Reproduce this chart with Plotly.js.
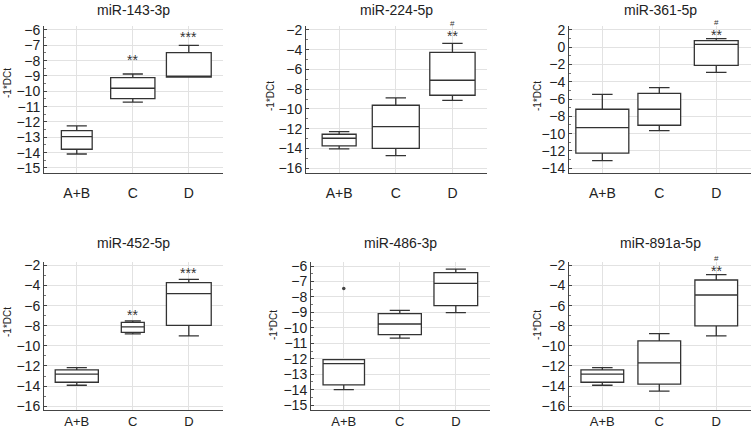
<!DOCTYPE html>
<html>
<head>
<meta charset="utf-8">
<script src="https://cdn.plot.ly/plotly-3.0.1.min.js"></script>
<style>html,body{margin:0;padding:0;background:#fff;}#chart{width:752px;height:430px;}</style>
</head>
<body>
<div id="chart"></div>
<script>
// ---------------- data ----------------
const panelTitles = ['miR-143-3p', 'miR-224-5p', 'miR-361-5p', 'miR-452-5p', 'miR-486-3p', 'miR-891a-5p'];
const groups = ['A+B', 'C', 'D'];

// per panel, per group (A+B, C, D)
const upperFence = [
  [-12.26, -8.87, -7.00],
  [-12.29, -8.88, -3.35],
  [-5.45, -4.67, 1.00],
  [-12.16, -7.52, -3.39],
  [-12.05, -8.87, -6.20],
  [-12.16, -8.78, -2.92]
];
const q3Values = [
  [-12.57, -9.11, -7.48],
  [-12.56, -9.62, -4.26],
  [-7.18, -5.33, 0.76],
  [-12.39, -7.66, -3.72],
  [-12.05, -9.08, -6.43],
  [-12.39, -9.51, -3.45]
];
const medianValues = [
  [-12.96, -9.80, -9.07],
  [-12.96, -11.78, -7.09],
  [-9.30, -7.18, 0.34],
  [-12.82, -8.12, -4.81],
  [-12.31, -9.75, -7.12],
  [-12.82, -11.69, -4.94]
];
const q1Values = [
  [-13.78, -10.48, -9.07],
  [-13.74, -13.98, -8.61],
  [-12.27, -9.03, -2.09],
  [-13.62, -8.65, -7.96],
  [-13.69, -10.44, -8.56],
  [-13.62, -13.81, -8.02]
];
const lowerFence = [
  [-14.09, -10.70, -9.07],
  [-14.04, -14.72, -9.12],
  [-13.12, -9.65, -2.90],
  [-13.92, -8.81, -9.01],
  [-13.99, -10.67, -9.02],
  [-13.92, -14.51, -9.01]
];

// outliers
const outlierPanel = [4];
const outlierGroup = ['A+B'];
const outlierValue = [-7.45];

// significance marks
const starPanel = [0, 0, 1, 2, 3, 3, 4, 5];
const starGroup = ['C', 'D', 'D', 'D', 'C', 'D', 'D', 'D'];
const starText  = ['**', '***', '**', '**', '**', '***', '**', '**'];
const starY     = [-7.76, -6.26, -2.27, 1.73, -6.63, -2.50, -5.53, -2.23];
// '#' marks sit just above the '**' of these entries (index into the star arrays)
const hashOnStar = [2, 3, 7];

// ---------------- styles / layout ----------------
const boxWidths = [
  [0.55, 0.79, 0.80],
  [0.60, 0.83, 0.80],
  [0.93, 0.75, 0.77],
  [0.77, 0.41, 0.80],
  [0.74, 0.77, 0.78],
  [0.75, 0.75, 0.75]
];
const yRanges = [[-15.33, -5.74], [-16.48, -1.6], [-14.56, 2.46], [-16.33, -1.66], [-15.28, -5.74], [-16.33, -1.66]];
const yDticks = [1, 2, 2, 2, 1, 2];
const W = 752, H = 430;
const xDomPx = [[44, 223], [306, 487], [569, 751], [44, 223], [311, 490], [569, 751]];
const yDomPx = [[26, 173], [26, 173], [26, 173], [262, 409.5], [262, 409.5], [262, 409.5]];
const xLabelStandoff = [7, 7, 7, 0, 0, 0];
const xLabelSize = [14, 14, 14, 13, 13, 13];
const titleY = [10, 10, 10, 243, 243, 243];
const yTitlePos = [[7, 83], [270, 96], [537, 96], [7, 322], [273, 325], [537, 325]];

const FONT = 'Liberation Sans, Arial, sans-serif';
const lineCol = '#333333';
const gridCol = '#e2e2e2';

const traces = [];
const layout = {
  width: W, height: H,
  margin: {l: 0, r: 0, t: 0, b: 0},
  paper_bgcolor: '#fff', plot_bgcolor: '#fff',
  showlegend: false,
  boxmode: 'overlay',
  font: {family: FONT, size: 14, color: '#222'},
  annotations: []
};

for (let p = 0; p < 6; p++) {
  const sfx = p === 0 ? '' : String(p + 1);
  const xa = 'x' + sfx, ya = 'y' + sfx;
  for (let g = 0; g < 3; g++) {
    const w = boxWidths[p][g];
    traces.push({
      type: 'box',
      x: [groups[g]],
      q1: [q1Values[p][g]],
      median: [medianValues[p][g]],
      q3: [q3Values[p][g]],
      lowerfence: [lowerFence[p][g]],
      upperfence: [upperFence[p][g]],
      width: w,
      whiskerwidth: Math.min(0.7, 0.36 / w),
      boxpoints: false,
      fillcolor: '#ffffff',
      line: {color: lineCol, width: 1.3},
      xaxis: xa, yaxis: ya,
      hoverinfo: 'skip'
    });
  }
  layout['xaxis' + sfx] = {
    domain: [xDomPx[p][0] / W, xDomPx[p][1] / W],
    anchor: ya,
    type: 'category',
    categoryorder: 'array', categoryarray: groups,
    range: [-0.585, 2.61],
    showgrid: true, gridcolor: gridCol, gridwidth: 1,
    showline: true, linecolor: '#444', linewidth: 1,
    ticks: '', ticklabelstandoff: xLabelStandoff[p],
    tickfont: {size: xLabelSize[p], color: '#222'},
    zeroline: false, fixedrange: true
  };
  layout['yaxis' + sfx] = {
    domain: [1 - yDomPx[p][1] / H, 1 - yDomPx[p][0] / H],
    anchor: xa,
    range: yRanges[p],
    dtick: yDticks[p], tick0: 0,
    showgrid: true, gridcolor: gridCol, gridwidth: 1,
    showline: true, linecolor: '#444', linewidth: 1,
    ticks: 'inside', ticklen: 3, tickcolor: '#444',
    minor: {dtick: yDticks[p] / 2, ticks: 'inside', ticklen: 2, tickcolor: '#777', showgrid: false},
    tickfont: {size: 14, color: '#222'},
    zeroline: false, fixedrange: true
  };
  layout.annotations.push({
    xref: 'paper', yref: 'paper',
    x: (xDomPx[p][0] + xDomPx[p][1]) / 2 / W, y: 1 - titleY[p] / H,
    xanchor: 'center', yanchor: 'middle',
    text: panelTitles[p], showarrow: false,
    font: {size: 14, color: '#222'}
  });
  layout.annotations.push({
    xref: 'paper', yref: 'paper',
    x: yTitlePos[p][0] / W, y: 1 - yTitlePos[p][1] / H,
    xanchor: 'center', yanchor: 'middle',
    text: '-1*DCt', textangle: -90, showarrow: false,
    font: {size: 10, color: '#222'}
  });
}

// outliers
for (let i = 0; i < outlierPanel.length; i++) {
  const p = outlierPanel[i];
  const sfx = p === 0 ? '' : String(p + 1);
  traces.push({
    type: 'scatter', mode: 'markers',
    x: [outlierGroup[i]], y: [outlierValue[i]],
    marker: {size: 3.5, color: '#444'},
    xaxis: 'x' + sfx, yaxis: 'y' + sfx, hoverinfo: 'skip'
  });
}

// significance annotations
for (let i = 0; i < starPanel.length; i++) {
  const p = starPanel[i];
  const sfx = p === 0 ? '' : String(p + 1);
  layout.annotations.push({
    xref: 'x' + sfx, yref: 'y' + sfx,
    x: starGroup[i], y: starY[i], yshift: -3,
    text: starText[i], showarrow: false,
    xanchor: 'center', yanchor: 'middle',
    font: {size: 14, color: '#333'}
  });
}
for (let k = 0; k < hashOnStar.length; k++) {
  const i = hashOnStar[k];
  const p = starPanel[i];
  const sfx = p === 0 ? '' : String(p + 1);
  layout.annotations.push({
    xref: 'x' + sfx, yref: 'y' + sfx,
    x: starGroup[i], y: starY[i], yshift: 9.5,
    text: '#', showarrow: false,
    xanchor: 'center', yanchor: 'middle',
    font: {size: 8, color: '#333'}
  });
}

Plotly.newPlot('chart', traces, layout, {staticPlot: true, displayModeBar: false});
</script>
</body>
</html>
